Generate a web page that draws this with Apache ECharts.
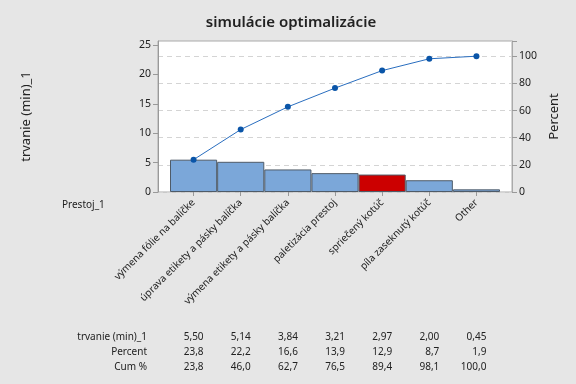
<!DOCTYPE html>
<html><head><meta charset="utf-8">
<script src="https://cdn.jsdelivr.net/npm/echarts@6/dist/echarts.min.js"></script>
<style>html,body{margin:0;padding:0;background:#e6e6e6}#c{width:576px;height:384px}</style>
</head><body><div id="c"></div><script>
const categories = ["výmena fólie na balíčke","úprava etikety a pásky balíčka","výmena etikety a pásky balíčka","paletizácia prestoj","spriečený kotúč","píla zaseknutý kotúč","Other"];
const durations = [5.50, 5.14, 3.84, 3.21, 2.97, 2.00, 0.45];
const percents = [23.8, 22.2, 16.6, 13.9, 12.9, 8.7, 1.9];
const cumPercents = [23.8, 46.0, 62.7, 76.5, 89.4, 98.1, 100.0];
const highlightIndex = 4;
const leftMax = 25.7;
const rightMax = 111.2;
const tableRowLabels = ["trvanie (min)_1", "Percent", "Cum %"];

const FONT = '"Noto Sans", sans-serif';
const TXT = '#222';
const chart = echarts.init(document.getElementById('c'), null, {renderer: 'canvas'});

const fmt = (v, d) => v.toFixed(d).replace('.', ',');

const option = {
  backgroundColor: '#e6e6e6',
  animation: false,
  textStyle: {fontFamily: FONT},
  title: {
    text: 'simulácie optimalizácie', left: 286, top: 10, textAlign: 'center',
    textStyle: {fontFamily: FONT, fontSize: 15, fontWeight: 600, color: TXT}
  },
  grid: [
    {left: 170, right: 76, top: 41, bottom: 192, containLabel: false},
    {left: 158, right: 64, top: 41, bottom: 192, show: true, backgroundColor: '#ffffff', borderColor: '#aaaaaa', borderWidth: 1, z: 0}
  ],
  xAxis: [
    {type: 'category', gridIndex: 0, data: categories, boundaryGap: true,
     axisLine: {show: false},
     axisTick: {show: true, alignWithLabel: true, length: 4, lineStyle: {color: '#999'}},
     axisLabel: {rotate: 45, fontSize: 10, color: TXT, fontFamily: FONT, margin: 9, interval: 0}},
    {type: 'value', gridIndex: 1, min: 0, max: 1, show: false}
  ],
  yAxis: [
    {type: 'value', gridIndex: 0, min: 0, max: leftMax, show: false},
    {type: 'value', gridIndex: 0, min: 0, max: rightMax, show: false},
    {type: 'value', gridIndex: 1, min: 0, max: leftMax, interval: 5, position: 'left',
     name: 'trvanie (min)_1', nameLocation: 'middle', nameGap: 125, nameRotate: 90,
     nameTextStyle: {fontFamily: FONT, fontSize: 13, color: TXT},
     axisLine: {show: true, lineStyle: {color: '#999'}},
     axisTick: {show: true, length: 5, lineStyle: {color: '#999'}},
     axisLabel: {fontSize: 10.5, color: TXT, margin: 7, showMaxLabel: false, formatter: v => (v % 5 === 0 ? String(v) : '')},
     splitLine: {show: false}},
    {type: 'value', gridIndex: 1, min: 0, max: rightMax, interval: 20, position: 'right',
     name: 'Percent', nameLocation: 'middle', nameGap: 33, nameRotate: 90,
     nameTextStyle: {fontFamily: FONT, fontSize: 13, color: TXT},
     axisLine: {show: true, lineStyle: {color: '#aaaaaa'}},
     axisTick: {show: true, length: 5, lineStyle: {color: '#999'}},
     axisLabel: {fontSize: 10.5, color: TXT, margin: 7, formatter: v => (v % 20 === 0 ? String(v) : '')},
     splitLine: {show: true, lineStyle: {color: '#d4d4d4', type: [5, 4], width: 1}}}
  ],
  series: [
    {type: 'bar', xAxisIndex: 0, yAxisIndex: 0, barCategoryGap: '0%', z: 3,
     data: durations.map((v, i) => ({value: v, itemStyle: {color: i === highlightIndex ? '#cc0000' : '#7ba7d9'}})),
     itemStyle: {borderColor: '#4f5b68', borderWidth: 1}},
    {type: 'line', xAxisIndex: 0, yAxisIndex: 1, data: cumPercents, z: 4,
     symbol: 'circle', symbolSize: 6,
     lineStyle: {color: '#2a6ebf', width: 1},
     itemStyle: {color: '#0a55a8'}}
  ]
};
chart.setOption(option);

const texts = [];
texts.push({type: 'text', left: 62, top: 200, style: {text: 'Prestoj_1', font: '10px ' + FONT, fill: TXT}});
const rowsY = [337, 352, 367];
const rows = [durations.map(v => fmt(v, 2)), percents.map(v => fmt(v, 1)), cumPercents.map(v => fmt(v, 1))];
rowsY.forEach((y, r) => {
  texts.push({type: 'text', x: 147, y: y, style: {text: tableRowLabels[r], font: '10px ' + FONT, fill: TXT, align: 'right', verticalAlign: 'middle'}});
  rows[r].forEach((s, i) => {
    const px = chart.convertToPixel({gridIndex: 0}, [i, 0]);
    texts.push({type: 'text', x: px[0] + 10, y: y, style: {text: s, font: '10px ' + FONT, fill: TXT, align: 'right', verticalAlign: 'middle'}});
  });
});
chart.setOption({graphic: texts});
</script></body></html>
